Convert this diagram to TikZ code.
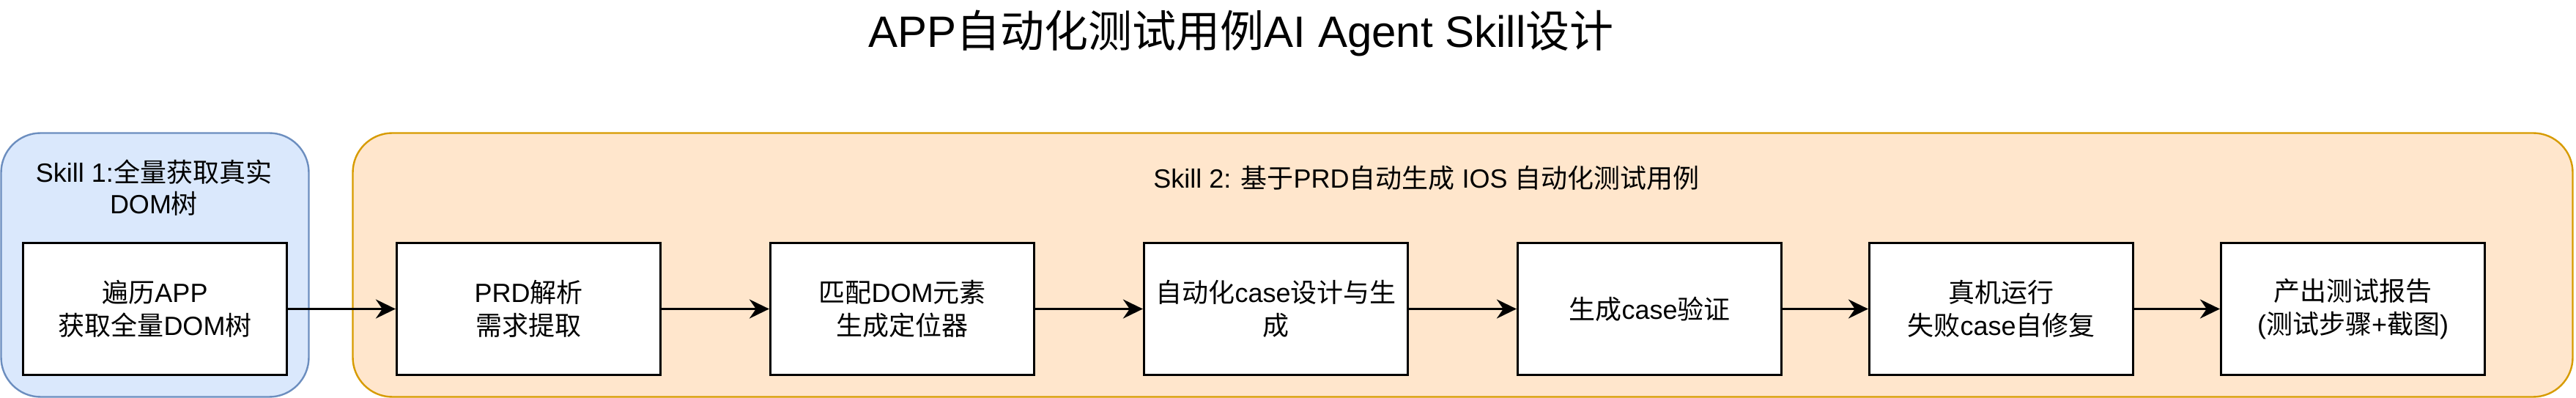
\documentclass[tikz,border=0pt]{standalone}
\usepackage{fontspec}
\setmainfont{Liberation Sans}
\newfontfamily\cjk{Noto Sans CJK SC}
\newcommand\C[1]{{\cjk #1}}
\usetikzlibrary{arrows.meta}
\definecolor{bluefill}{HTML}{DAE8FC}
\definecolor{bluedraw}{HTML}{6C8EBF}
\definecolor{orangefill}{HTML}{FFE6CC}
\definecolor{orangedraw}{HTML}{D79B00}
\tikzset{
  container/.style={line width=0.8pt, rounded corners=18pt},
  stepbox/.style={draw=black, fill=white, line width=1.1pt, minimum width=120pt, minimum height=60pt,
    inner sep=0pt, align=center, font=\fontsize{12}{15}\selectfont},
  label12/.style={align=center, inner sep=0pt, font=\fontsize{12}{14.4}\selectfont},
  flow/.style={line width=0.9pt, -{Stealth[length=9pt,width=8.7pt,inset=3pt]}}
}
\begin{document}
\begin{tikzpicture}[x=1pt,y=-1pt]
\useasboundingbox (0,0) rectangle (1172,181);
% title
\node[inner sep=0pt, font=\fontsize{20}{24}\selectfont] (title) at (564.7,15.2) {APP\C{自动化测试用例}AI Agent Skill\C{设计}};
% containers
\draw[container, fill=bluefill, draw=bluedraw] (0.5,60.5) rectangle (140.5,180.5);
\draw[container, fill=orangefill, draw=orangedraw] (160.5,60.5) rectangle (1170.5,180.5);
\node[label12] (skill1) at (70,85.5) {Skill 1:\C{全量获取真实}\\DOM\C{树}};
\node[label12] (skill2) at (649,81) {Skill 2: \C{基于}PRD\C{自动生成} IOS \C{自动化测试用例}};
% steps
\node[stepbox] (b1) at (70.5,140.5) {\C{遍历}APP\\\C{获取全量}DOM\C{树}};
\node[stepbox] (b2) at (240.5,140.5) {PRD\C{解析}\\\C{需求提取}};
\node[stepbox] (b3) at (410.5,140.5) {\C{匹配}DOM\C{元素}\\\C{生成定位器}};
\node[stepbox] (b4) at (580.5,140.5) {\C{自动化}case\C{设计与生}\\\C{成}};
\node[stepbox] (b5) at (750.5,140.5) {\C{生成}case\C{验证}};
\node[stepbox] (b6) at (910.5,140.5) {\C{真机运行}\\\C{失败}case\C{自修复}};
\node[stepbox] (b7) at (1070.5,140.5) {\C{产出测试报告}\\(\C{测试步骤}+\C{截图})};
% arrows
\draw[flow] (b1) -- (b2);
\draw[flow] (b2) -- (b3);
\draw[flow] (b3) -- (b4);
\draw[flow] (b4) -- (b5);
\draw[flow] (b5) -- (b6);
\draw[flow] (b6) -- (b7);
\end{tikzpicture}
\end{document}
